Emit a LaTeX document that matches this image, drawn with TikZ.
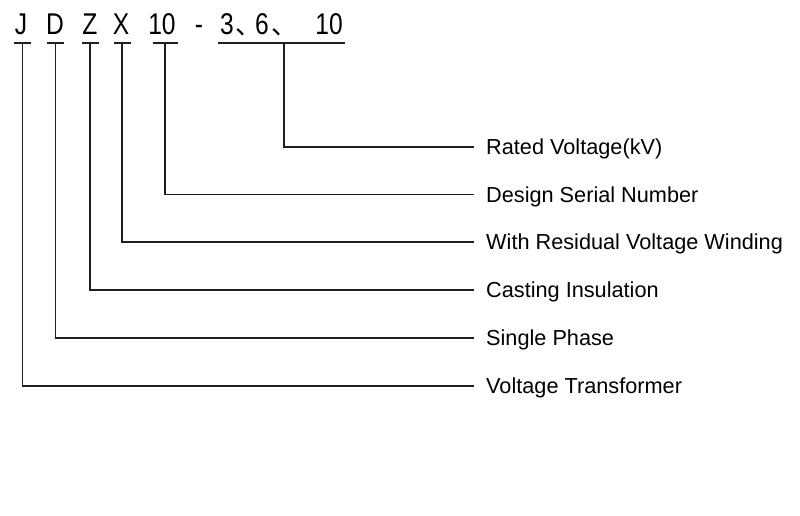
\documentclass[tikz,border=0pt]{standalone}
\usepackage{fontspec}
\setmainfont{Liberation Sans}
\newfontfamily\codefont[FakeStretch=0.82]{Liberation Sans}
\newfontfamily\cjkfont{Noto Sans CJK SC}
\begin{document}
\begin{tikzpicture}[x=1pt,y=-1pt,
  code/.style={inner sep=0pt, anchor=base, font=\codefont\fontsize{30}{30}\selectfont},
  comma/.style={inner sep=0pt, anchor=base west, font=\cjkfont\fontsize{26}{26}\selectfont},
  lbl/.style={inner sep=0pt, anchor=west, text height=15pt, text depth=0pt,
              font=\fontsize{21.7}{21.7}\selectfont},
  wire/.style={line width=1.3pt, color=black!88},
]
\useasboundingbox (0,0) rectangle (800,516);
% code characters
\node[code] (cJ) at (21,34.5) {J};
\node[code] (cD) at (55,34.5) {D};
\node[code] (cZ) at (90,34.5) {Z};
\node[code] (cX) at (121,34.5) {X};
\node[code] (cT) at (162,34.5) {10};
\node[code] (cH) at (199,34.5) {-};
\node[code] (c3) at (227,34.5) {3};
\node[comma] (k1) at (235,34.5) {\makebox[10pt][l]{、}};
\node[code] (c6) at (262,34.5) {6};
\node[comma] (k2) at (271,34.5) {\makebox[10pt][l]{、}};
\node[code] (c10) at (329,34.5) {10};
% labels
\node[lbl] (l1) at (486,147) {Rated Voltage(kV)};
\node[lbl] (l2) at (486,194.5) {Design Serial Number};
\node[lbl] (l3) at (486,242) {With Residual Voltage Winding};
\node[lbl] (l4) at (486,290) {Casting Insulation};
\node[lbl] (l5) at (486,338) {Single Phase};
\node[lbl] (l6) at (486,386) {Voltage Transformer};
% bar coordinates
\coordinate (bJ) at (22.5,43);
\coordinate (bD) at (55.5,43);
\coordinate (bZ) at (90,43);
\coordinate (bX) at (122,43);
\coordinate (bT) at (165,43);
\coordinate (bG) at (284,43);
% bars
\draw[wire] ([xshift=-8.5pt]bJ) -- ([xshift=8.5pt]bJ);
\draw[wire] ([xshift=-8.5pt]bD) -- ([xshift=8.5pt]bD);
\draw[wire] ([xshift=-8.5pt]bZ) -- ([xshift=8.5pt]bZ);
\draw[wire] ([xshift=-8.5pt]bX) -- ([xshift=8.5pt]bX);
\draw[wire] ([xshift=-12.5pt]bT) -- ([xshift=12.5pt]bT);
\draw[wire] (218,43) coordinate (gL) -- (345,43) coordinate (gR);
% connectors
\draw[wire] (bG) |- ([xshift=-12pt]l1.west);
\draw[wire] (bT) |- ([xshift=-12pt]l2.west);
\draw[wire] (bX) |- ([xshift=-12pt]l3.west);
\draw[wire] (bZ) |- ([xshift=-12pt]l4.west);
\draw[wire] (bD) |- ([xshift=-12pt]l5.west);
\draw[wire] (bJ) |- ([xshift=-12pt]l6.west);
\end{tikzpicture}
\end{document}
